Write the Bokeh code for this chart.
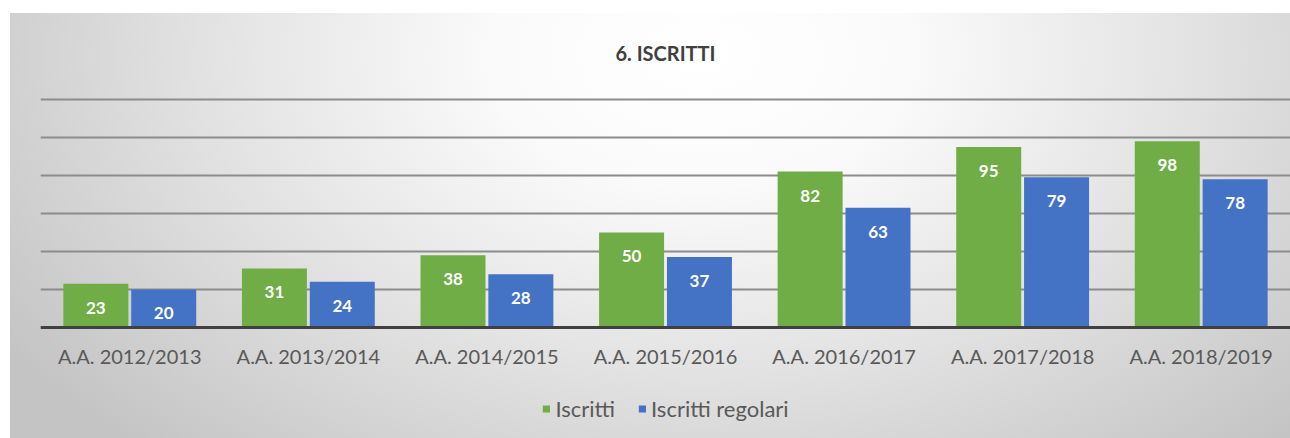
from bokeh.plotting import figure
from bokeh.models import (ColumnDataSource, FactorRange, Range1d, FixedTicker, Legend, LegendItem,
                          LabelSet, Span)
from bokeh.core.properties import value
from bokeh.transform import dodge
from bokeh.embed import file_html
from bokeh.resources import INLINE

years = ["A.A. 2012/2013", "A.A. 2013/2014", "A.A. 2014/2015", "A.A. 2015/2016",
         "A.A. 2016/2017", "A.A. 2017/2018", "A.A. 2018/2019"]
iscritti = [23, 31, 38, 50, 82, 95, 98]
iscritti_regolari = [20, 24, 28, 37, 63, 79, 78]
series_names = ["Iscritti", "Iscritti regolari"]
grid_values = [0, 20, 40, 60, 80, 100, 120]

GREEN = "#70AD47"
BLUE = "#4472C4"
FONT = "Lato"

src = ColumnDataSource(dict(year=years, a=iscritti, b=iscritti_regolari,
                            base=[0] * len(years),
                            la=[str(v) for v in iscritti], lb=[str(v) for v in iscritti_regolari]))

p = figure(x_range=FactorRange(*years), y_range=Range1d(-58.5, 124.7),
           width=1280, height=425, output_backend="svg", toolbar_location=None,
           min_border_left=30, min_border_right=0, min_border_top=77, min_border_bottom=0,
           title="6. ISCRITTI")
p.margin = (13, 0, 0, 10)
p.styles = {"background": "radial-gradient(ellipse 65% 125% at 54% 10%, #ffffff 0%, #fafafa 25%, #e2e2e2 60%, #c4c4c4 100%)"}
p.border_fill_alpha = 0
p.background_fill_alpha = 0
p.outline_line_color = None

p.title.align = "center"
p.title.text_font = FONT
p.title.text_font_style = "bold"
p.title.text_font_size = "20px"
p.title.text_color = "#404040"
p.title.standoff = 51

p.xaxis.visible = False
p.yaxis.visible = False
p.xgrid.visible = False
p.ygrid.ticker = FixedTicker(ticks=grid_values)
p.ygrid.grid_line_color = "#8c8c8c"
p.ygrid.grid_line_width = 2

p.add_layout(Span(location=grid_values[0], dimension="width", line_color="#404040", line_width=3))

W = 0.364
OFF = 0.19
r1 = p.vbar(x=dodge("year", -OFF, range=p.x_range), top="a", width=W, source=src,
            fill_color=GREEN, line_color=None)
r2 = p.vbar(x=dodge("year", OFF, range=p.x_range), top="b", width=W, source=src,
            fill_color=BLUE, line_color=None)

for ycol, lab, off in [("a", "la", -OFF), ("b", "lb", OFF)]:
    p.add_layout(LabelSet(x=dodge("year", off, range=p.x_range), y=ycol, text=lab, source=src,
                          y_offset=-24, text_align="center", text_baseline="middle",
                          text_color="white", text_font_style="bold", text_font_size="17px",
                          text_font=value(FONT)))

p.add_layout(LabelSet(x="year", y="base", text="year", source=src, y_offset=-29,
                      text_align="center", text_baseline="middle", text_color="#595959",
                      text_font_size="20px", text_font=value(FONT)))

legend = Legend(items=[LegendItem(label=series_names[0], renderers=[r1]),
                       LegendItem(label=series_names[1], renderers=[r2])],
                orientation="horizontal", location="bottom_center")
legend.glyph_width = 9
legend.glyph_height = 9
legend.label_text_font = FONT
legend.label_text_font_size = "22px"
legend.label_text_color = "#595959"
legend.background_fill_alpha = 0
legend.border_line_color = None
legend.spacing = 22
legend.label_standoff = 5
legend.padding = 8
legend.margin = 16
p.add_layout(legend, "center")

open("out.html", "w").write(file_html(p, INLINE))
